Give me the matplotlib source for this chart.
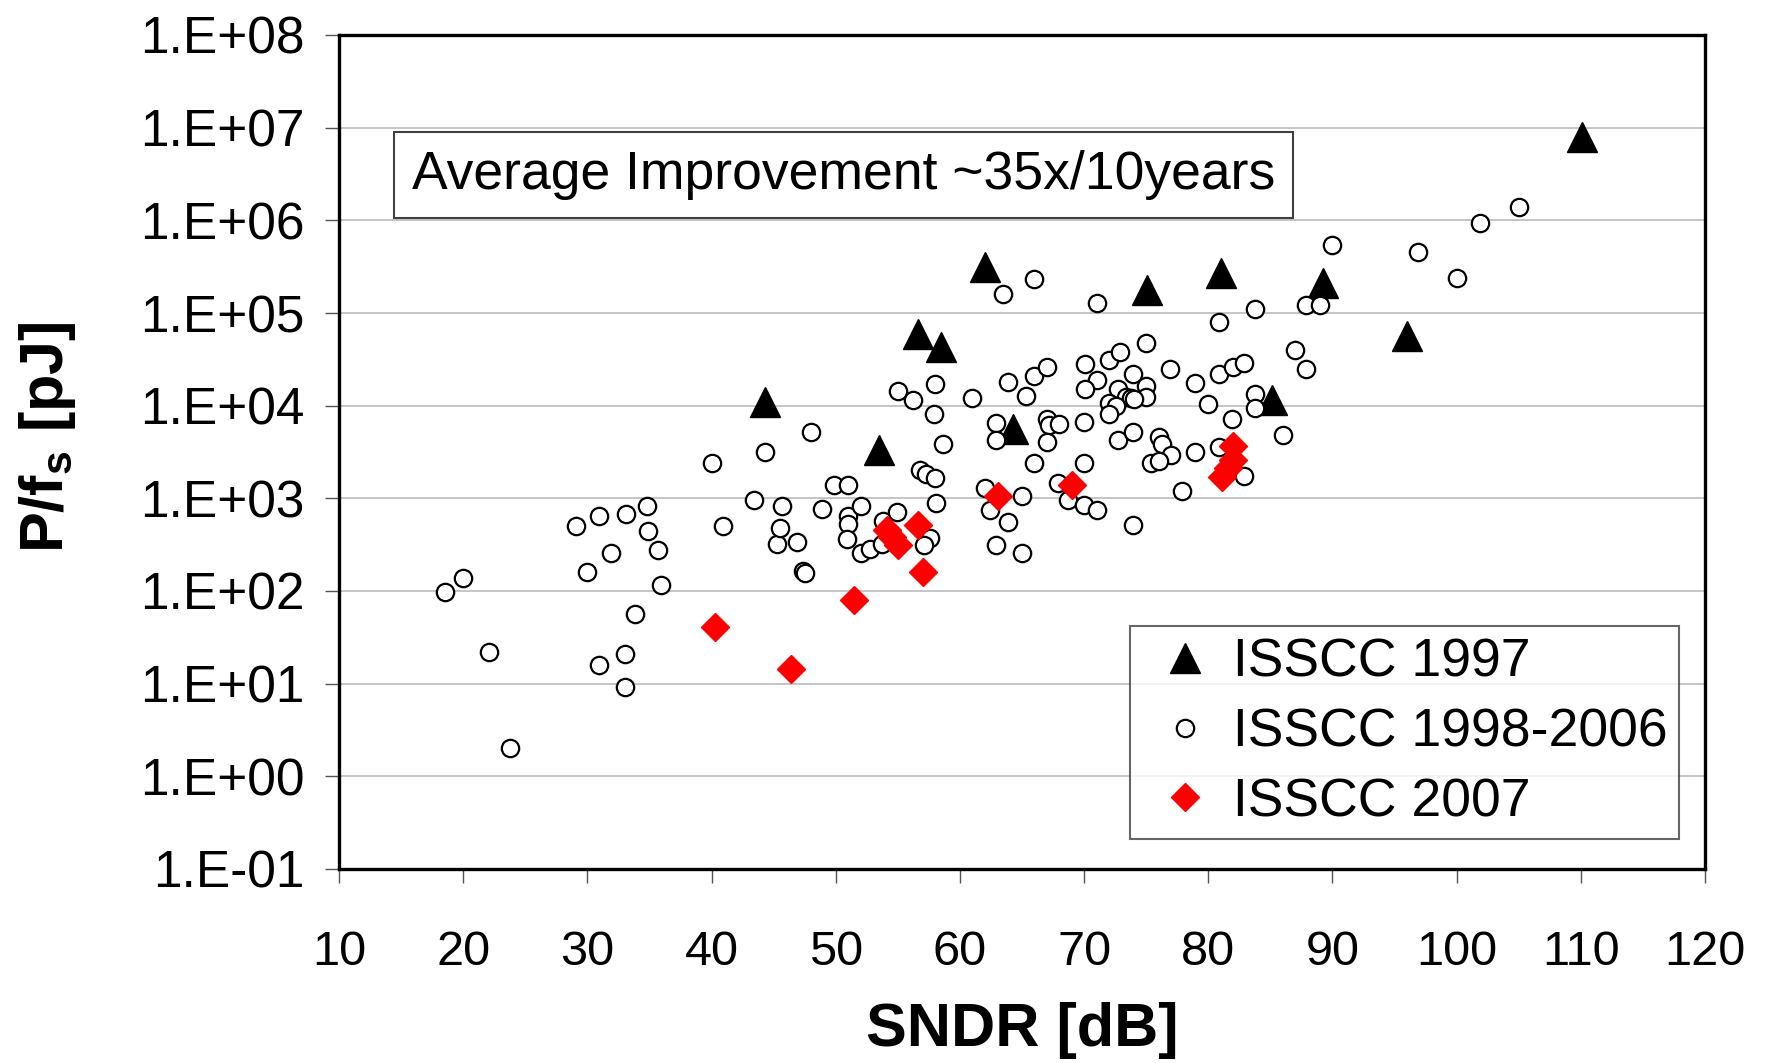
import matplotlib
matplotlib.use("Agg")
import matplotlib.pyplot as plt

plt.rcParams['font.family'] = ['Liberation Sans', 'DejaVu Sans']
plt.rcParams['mathtext.fontset'] = 'custom'
plt.rcParams['mathtext.rm'] = 'Liberation Sans:bold'
plt.rcParams['mathtext.bf'] = 'Liberation Sans:bold'

# ISSCC 1997
tri_sndr = [44.3, 53.5, 56.6, 58.5, 62.0, 64.3, 75.1, 81.0, 85.1, 89.2, 96.0, 110.1]
tri_pfs = [1.1e4, 3.3e3, 5.9e4, 4.3e4, 3.1e5, 5.6e3, 1.75e5, 2.7e5, 1.15e4, 2.1e5, 5.6e4, 8.0e6]

# ISSCC 1998-2006
circ_sndr = [
    18.5, 20.0, 22.1, 23.8,
    29.1, 30.0, 30.9, 30.9, 31.9, 33.0, 33.0, 33.1, 33.8, 34.8, 34.9, 35.7, 35.9,
    40.0, 40.9, 43.4, 44.3, 45.3, 45.5, 45.7, 46.9, 47.4, 47.5, 48.0, 48.9,
    49.9, 51.0, 51.0, 51.0, 50.9, 52.0, 52.0, 52.75, 53.7, 53.8, 54.9,
    55.0, 56.2, 56.8, 57.3, 58.0, 58.0, 57.9, 58.6, 58.1, 57.6, 57.1,
    61.0, 62.0, 62.4, 62.9, 62.9, 62.9, 63.5, 63.9, 63.9, 65.0, 65.0, 65.3,
    66.0, 66.0, 66.0, 67.0, 67.0, 67.2, 68.0, 67.0, 67.9, 68.7,
    70.0, 70.0, 70.0, 71.0, 71.0, 70.1, 71.0, 70.1,
    72.0, 72.9, 75.0, 73.9, 75.0, 72.75, 75.0, 73.4, 73.8, 74.0, 72.0, 72.6, 72.0,
    76.9, 78.9, 72.75, 73.9, 76.0, 76.3, 77.0, 75.4, 76.0, 78.9, 77.9, 73.9,
    80.9, 83.8, 87.9, 89.0, 90.0, 80.9, 82.0, 82.9, 87.0, 87.9,
    80.0, 83.8, 83.8, 81.9, 86.0, 80.9, 82.9,
    96.9, 100.0, 101.9, 105.0,
]
circ_pfs = [
    98, 138, 22, 2.0,
    500, 162, 650, 16, 260, 21, 9.2, 670, 56, 830, 440, 280, 115,
    2400, 500, 970, 3200, 320, 480, 820, 340, 165, 155, 5200, 760,
    1380, 1380, 640, 530, 360, 830, 255, 285, 325, 570, 720,
    14500, 11500, 2000, 1850, 1650, 17000, 8200, 3900, 880, 375, 315,
    12000, 1300, 750, 6500, 4300, 310, 1.6e5, 18000, 560, 1070, 255, 12600,
    2.35e5, 21000, 2400, 26000, 7200, 6200, 6400, 4100, 1450, 970,
    6600, 2400, 850, 740, 1.29e5, 28000, 19000, 15000,
    31000, 38000, 48000, 22000, 16500, 15000, 12500, 12500, 12000, 11800, 10700, 10000, 8200,
    25000, 17500, 4300, 5200, 4600, 3900, 2900, 2400, 2500, 3200, 1200, 510,
    7.9e4, 1.1e5, 1.22e5, 1.22e5, 5.4e5, 22000, 26000, 29000, 40000, 25000,
    10500, 13500, 9500, 7100, 4800, 3600, 1750,
    4.6e5, 2.4e5, 9.3e5, 1.4e6,
]

# ISSCC 2007
dia_sndr = [40.3, 46.4, 51.5, 54.1, 54.5, 55.0, 56.6, 57.05, 63.1, 69.0, 81.1, 81.6, 82.0, 82.0]
dia_pfs = [41, 14.5, 80, 460, 380, 310, 520, 160, 1050, 1400, 1700, 2100, 2600, 3700]

ytick_vals = [10.0 ** k for k in range(-1, 9)]
ytick_labels = ['1.E-01', '1.E+00', '1.E+01', '1.E+02', '1.E+03',
                '1.E+04', '1.E+05', '1.E+06', '1.E+07', '1.E+08']
xtick_vals = list(range(10, 121, 10))

fig = plt.figure(figsize=(17.7, 10.63), dpi=100)
ax = fig.add_axes([339 / 1770, 1 - 869 / 1063, 1366 / 1770, 834 / 1063])

ax.plot(tri_sndr, tri_pfs, linestyle='none', marker='^', ms=21, color='black',
        label='ISSCC 1997', zorder=3)
ax.plot(circ_sndr, circ_pfs, linestyle='none', marker='o', ms=12.5, mfc='white',
        mec='black', mew=1.6, label='ISSCC 1998-2006', zorder=4)
ax.plot(dia_sndr, dia_pfs, linestyle='none', marker='D', ms=14.5, color='#ff0000',
        mec='#ff0000', label='ISSCC 2007', zorder=5)

ax.set_yscale('log')
ax.set_ylim(0.1, 1e8)
ax.set_xlim(10, 120)
ax.set_yticks(ytick_vals)
ax.set_yticklabels(ytick_labels)
ax.yaxis.set_minor_locator(matplotlib.ticker.NullLocator())
ax.set_xticks(xtick_vals)
ax.tick_params(axis='y', which='major', labelsize=37, length=10, width=1,
               color='#555555', pad=15)
ax.tick_params(axis='x', which='major', labelsize=35, length=10, width=1,
               color='#555555', pad=34)

ax.grid(True, axis='y', color='#c0c0c0', linewidth=1.3)
ax.set_axisbelow(True)
for sp in ax.spines.values():
    sp.set_linewidth(2.4)
    sp.set_color('black')

ax.set_xlabel('SNDR [dB]', fontsize=44, fontweight='bold')
ax.xaxis.set_label_coords(0.5, -0.16)
fig.text(47 / 1770, 1 - 437 / 1063, r'P/f$_\mathregular{s}$ [pJ]', fontsize=44,
         fontweight='bold', rotation=90, ha='center', va='center')

ax.text(0.0535, 0.832, 'Average Improvement ~35x/10years', transform=ax.transAxes,
        fontsize=38.5, va='center', ha='left',
        bbox=dict(boxstyle='square,pad=0.33', facecolor='white', edgecolor='#404040',
                  linewidth=1.5))

leg = ax.legend(loc='lower right', bbox_to_anchor=(0.981, 0.036), borderaxespad=0,
                fontsize=38.5, frameon=True, fancybox=False, handlelength=1.6,
                handletextpad=0.1, labelspacing=0.37, borderpad=0.22, numpoints=1)
leg.get_frame().set_edgecolor('#404040')
leg.get_frame().set_linewidth(1.5)

fig.savefig('out.png', dpi=100)
